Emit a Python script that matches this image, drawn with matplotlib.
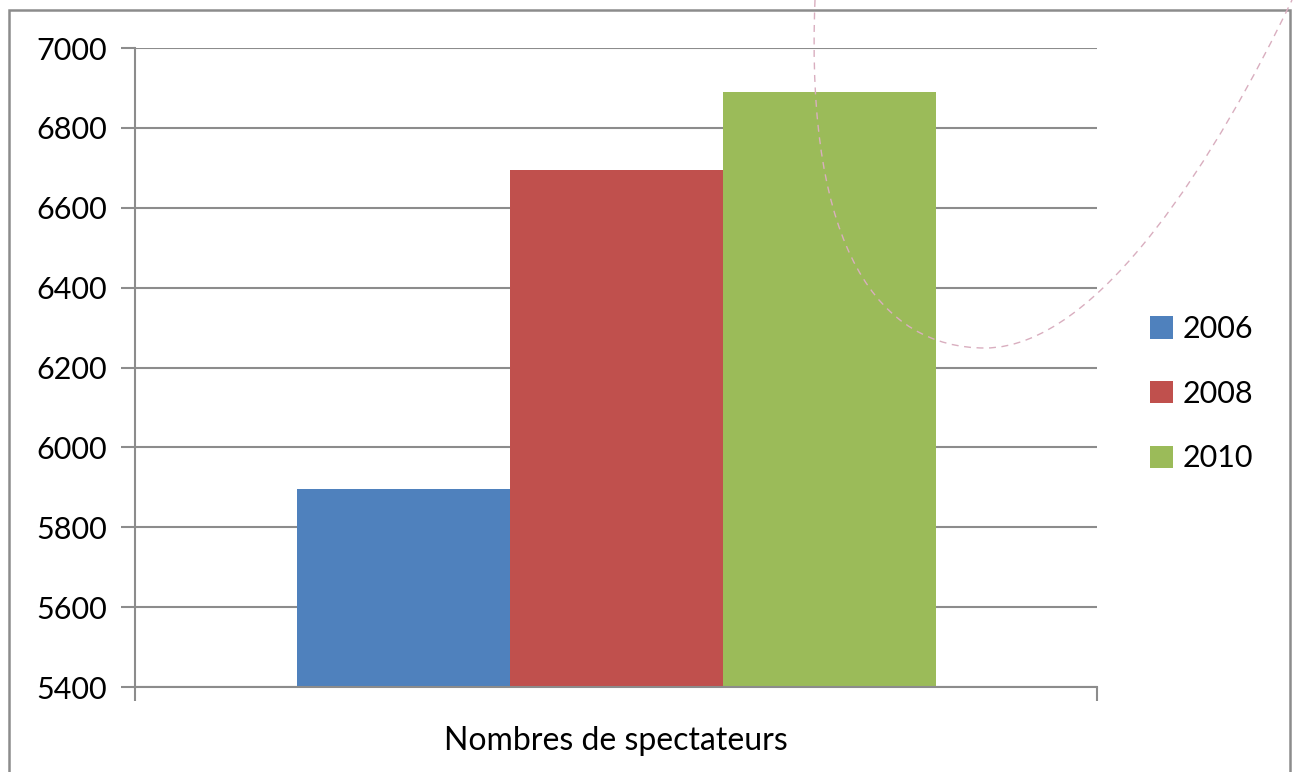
import matplotlib.pyplot as plt
import matplotlib.patches as mpatches
from matplotlib.path import Path

plt.rcParams['font.family'] = ['Lato', 'DejaVu Sans']

# Données du graphique
categorie = 'Nombres de spectateurs'
annees = ['2006', '2008', '2010']
spectateurs = [5895, 6695, 6890]
couleurs = ['#4F81BD', '#C0504D', '#9BBB59']
graduations = [5400, 5600, 5800, 6000, 6200, 6400, 6600, 6800, 7000]

gris = '#8c8c8c'

fig = plt.figure(figsize=(12.96, 7.72), dpi=100)
ax = fig.add_axes([0.1042, 0.1101, 0.7423, 0.8277])

largeur = 0.2214
for i, (annee, val, col) in enumerate(zip(annees, spectateurs, couleurs)):
    ax.bar((i - 1) * largeur, val - graduations[0], bottom=graduations[0],
           width=largeur, color=col, label=annee, zorder=3)

ax.set_xlim(-0.5, 0.5)
ax.set_ylim(graduations[0], graduations[-1])
ax.set_yticks(graduations)
ax.set_yticklabels([str(g) for g in graduations], fontsize=22)
ax.yaxis.grid(True, color=gris, linewidth=1.5, zorder=0)

ax.set_xticks([0])
ax.set_xticklabels([categorie], fontsize=23)
ax.set_xticks([-0.5, 0.5], minor=True)
ax.tick_params(axis='x', which='major', length=0, pad=28)
ax.tick_params(axis='x', which='minor', length=10, width=1.5, color=gris, direction='out')
ax.tick_params(axis='y', length=10, width=1.5, color=gris, direction='out', pad=10)

for s in ['top', 'right']:
    ax.spines[s].set_visible(False)
for s in ['left', 'bottom']:
    ax.spines[s].set_color(gris)
    ax.spines[s].set_linewidth(1.5)
    ax.spines[s].set_zorder(4)

# Légende à droite
fig.legend(loc='center left', bbox_to_anchor=(0.878, 0.49), frameon=False,
           fontsize=22, handlelength=0.75, handleheight=0.75, handletextpad=0.3,
           labelspacing=1.2, borderaxespad=0)

# Cadre autour du graphique
W, H = 1296, 772
cadre = mpatches.Rectangle((9 / W, -0.05), (1290 - 9) / W, 1.05 - 10 / H,
                           transform=fig.transFigure, fill=False,
                           edgecolor=gris, linewidth=1.8)
fig.patches.append(cadre)

# Courbe pointillée (trace parasite de l'image d'origine)
pts = [(815, 0), (805, 250), (880, 348), (985, 348),
       (1100, 348), (1220, 150), (1292, 0)]
codes = [Path.MOVETO] + [Path.CURVE4] * 6
chemin = Path([(x / W, 1 - y / H) for x, y in pts], codes)
courbe = mpatches.PathPatch(chemin, transform=fig.transFigure, fill=False,
                            edgecolor='#d9aebf', linewidth=1.0, linestyle=(0, (5, 4)),
                            zorder=10)
fig.patches.append(courbe)

fig.savefig('out.png', dpi=100)
